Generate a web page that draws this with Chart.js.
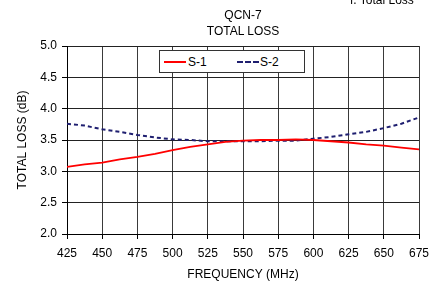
<!DOCTYPE html>
<html>
<head>
<meta charset="utf-8">
<script src="https://cdn.jsdelivr.net/npm/chart.js@4"></script>
<style>
    body { margin: 0; background: #fff; font-family: "Liberation Sans", Arial, sans-serif; }
    #wrap { position: relative; width: 429px; height: 284px; overflow: hidden; }
    .txt { position: absolute; color: #000; font-size: 12px; white-space: nowrap; line-height: 1; }
    #legend {
        position: absolute; left: 159px; top: 50px; width: 144px; height: 21px;
        border: 1px solid #333; background: #fff; font-size: 12px;
    }
    .swatch { position: absolute; top: 10px; width: 22px; height: 0; }
</style>
</head>
<body>
<div id="wrap">
    <canvas id="lossChart" width="429" height="284"></canvas>
    <div class="txt" style="left:350px; top:-6px;">f. Total Loss</div>
    <div class="txt" style="left:0; width:486px; text-align:center; top:9px;">QCN-7</div>
    <div class="txt" style="left:0; width:486px; text-align:center; top:25px;">TOTAL LOSS</div>
    <div id="legend">
        <div class="swatch" style="left:4px; border-top:2px solid #ff0000;"></div>
        <div class="txt" style="left:28px; top:5px;">S-1</div>
        <div class="swatch" style="left:77px; border-top:2px dashed #1f1f70;"></div>
        <div class="txt" style="left:100px; top:5px;">S-2</div>
    </div>
</div>
<script>
// Frequency points (MHz)
const freqs = [425, 437.5, 450, 462.5, 475, 487.5, 500, 512.5, 525, 537.5, 550,
               562.5, 575, 587.5, 600, 612.5, 625, 637.5, 650, 662.5, 675];

// Total loss (dB)
const s1Loss = [3.07, 3.11, 3.14, 3.19, 3.23, 3.28, 3.34, 3.39, 3.43, 3.47, 3.49,
                3.50, 3.50, 3.51, 3.50, 3.48, 3.46, 3.43, 3.41, 3.38, 3.35];
const s2Loss = [3.76, 3.73, 3.67, 3.63, 3.58, 3.54, 3.51, 3.50, 3.48, 3.48, 3.48,
                3.48, 3.49, 3.49, 3.52, 3.55, 3.59, 3.63, 3.69, 3.76, 3.86];

const seriesNames = ['S-1', 'S-2'];

// Axis ranges
const xMin = 425, xMax = 675, xStep = 25;
const yMin = 2.0, yMax = 5.0, yStep = 0.5;

function toPoints(values) {
    return freqs.map((f, i) => ({ x: f, y: values[i] }));
}

document.addEventListener('DOMContentLoaded', function() {
    const ctx = document.getElementById('lossChart').getContext('2d');
    const font = { family: '"Liberation Sans", Arial, sans-serif', size: 12 };

    new Chart(ctx, {
        type: 'line',
        data: {
            datasets: [{
                label: seriesNames[0],
                data: toPoints(s1Loss),
                borderColor: '#ff0000',
                borderWidth: 1.8,
                pointRadius: 0,
                tension: 0
            }, {
                label: seriesNames[1],
                data: toPoints(s2Loss),
                borderColor: '#1f1f70',
                borderWidth: 2,
                borderDash: [4, 3],
                pointRadius: 0,
                tension: 0
            }]
        },
        options: {
            responsive: false,
            animation: false,
            layout: { padding: { top: 46, right: 10, left: 0, bottom: 0 } },
            plugins: {
                legend: { display: false },
                tooltip: { enabled: false }
            },
            scales: {
                x: {
                    type: 'linear',
                    min: xMin,
                    max: xMax,
                    afterFit: function(scale) {
                        scale.height = 50;
                        // let the last label run past the edge like the original
                        scale.paddingRight = 0;
                        scale.paddingLeft = 0;
                    },
                    grid: { color: '#3a3a3a', tickLength: 5, tickColor: '#000' },
                    border: { color: '#000', width: 1 },
                    ticks: { stepSize: xStep, color: '#000', font: font, padding: 7, maxRotation: 0 },
                    title: {
                        display: true,
                        text: 'FREQUENCY (MHz)',
                        color: '#000',
                        font: font,
                        padding: { top: 4, bottom: 2 }
                    }
                },
                y: {
                    min: yMin,
                    max: yMax,
                    afterFit: function(scale) { scale.width = 67; },
                    grid: { color: '#222', tickLength: 5, tickColor: '#000' },
                    border: { color: '#000', width: 1 },
                    ticks: {
                        stepSize: yStep,
                        color: '#000',
                        font: font,
                        padding: 5,
                        callback: function(value) { return value.toFixed(1); }
                    },
                    title: {
                        display: true,
                        text: 'TOTAL LOSS (dB)',
                        color: '#000',
                        font: font,
                        padding: { top: 15, bottom: 0 }
                    }
                }
            }
        }
    });
});
</script>
</body>
</html>
